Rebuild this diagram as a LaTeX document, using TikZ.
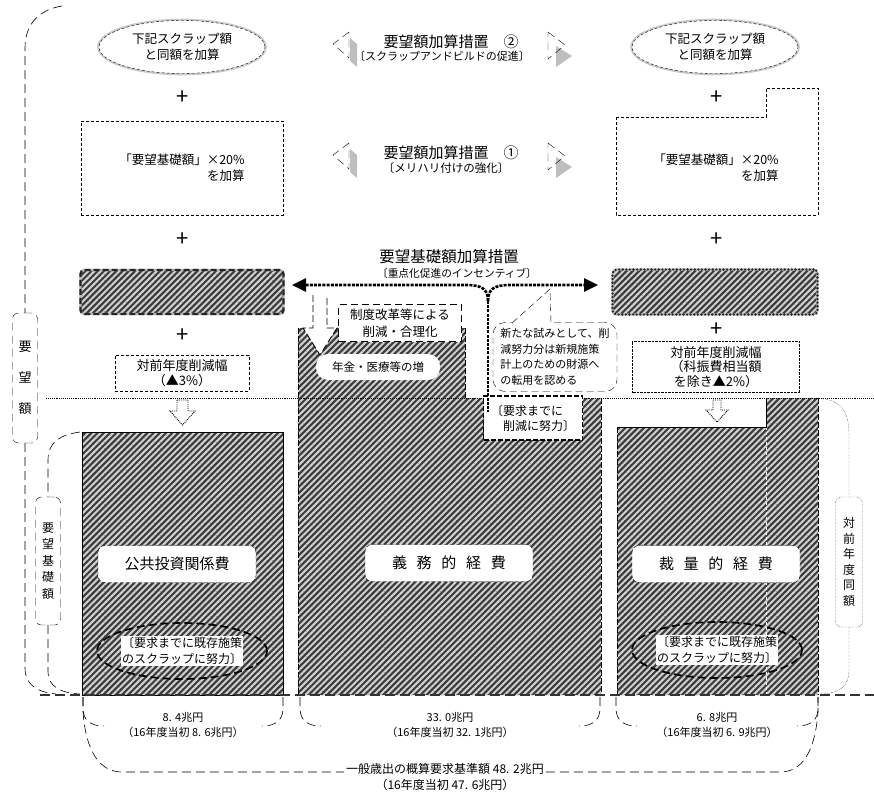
\documentclass[tikz,border=0pt]{standalone}
\usepackage{fontspec}
\setmainfont{Noto Sans CJK JP}
\usetikzlibrary{shapes.geometric,patterns.meta,arrows.meta}
\definecolor{stripeDark}{RGB}{60,60,60}
\definecolor{stripeLight}{RGB}{210,210,210}
\definecolor{haloGray}{RGB}{200,200,200}
\definecolor{shadeGray}{RGB}{190,190,190}
\newcommand{\fsz}[2]{\fontsize{#1}{#2}\selectfont}
\tikzset{
  hatched/.style={preaction={fill=stripeDark},
    pattern={Lines[angle=45,distance=4.4pt,line width=2pt]}, pattern color=stripeLight},
  dashbox/.style={draw, dash pattern=on 3pt off 2pt, fill=white, inner sep=0pt},
  dotbox/.style={draw, densely dotted, fill=white, inner sep=0pt},
  namebox/.style={draw, dash pattern=on 4pt off 2pt, fill=white, rounded corners=7pt,
    inner sep=0pt, minimum height=37pt, font=\fsz{15}{18}},
  scrapoval/.style={ellipse, draw, line width=1.7pt, dash pattern=on 8pt off 4pt,
    minimum width=170pt, minimum height=56pt, inner sep=0pt},
  scraptext/.style={fill=white, inner sep=1pt, font=\fsz{12}{16}, align=center},
  halooval/.style={ellipse, preaction={draw=haloGray, solid, line width=3.6pt},
    draw, dash pattern=on 3pt off 2pt, fill=white, minimum width=166pt, minimum height=53pt,
    inner sep=0pt, font=\fsz{12.5}{16}, align=center},
  plussign/.style={font=\fsz{22}{22}},
  bracketline/.style={dash pattern=on 9pt off 5pt, line width=0.6pt},
  vlabel/.style={draw, dash pattern=on 8pt off 5pt, rounded corners=6pt, fill=white,
    inner sep=0pt, minimum width=25pt, align=center},
  incentive/.style={line width=2.6pt, dash pattern=on 3pt off 1.2pt},
  openarrow/.style={densely dotted, line width=0.9pt, fill=white},
}

\begin{document}
\begin{tikzpicture}[x=1pt, y=-1pt]
\useasboundingbox (0,0) rectangle (874,795);

% side brackets
\node[vlabel, minimum height=130pt, font=\fsz{13}{31}] (yobo) at (25,378) {要\\望\\額};
\node[vlabel, minimum height=128pt, font=\fsz{12}{16.5}] (kiso) at (48,561) {要\\望\\基\\礎\\額};
\node[vlabel, densely dotted, minimum width=27pt, minimum height=130pt, font=\fsz{12}{15.5}] (doogaku) at (849,562) {対\\前\\年\\度\\同\\額};
\draw[bracketline] (62,6) .. controls (38,10) and (25,25) .. (25,48) -- (yobo.north);
\draw[bracketline] (yobo.south) -- (25,668) .. controls (25,684) and (36,692) .. (56,694);
\draw[bracketline] (80,432) .. controls (60,435) and (48,442) .. (48,460) -- (kiso.north);
\draw[bracketline] (kiso.south) -- (48,672) .. controls (48,686) and (60,693) .. (80,694);
\draw[densely dotted] (818,398) .. controls (842,400) and (849,412) .. (849,435) -- (doogaku.north);
\draw[densely dotted] (doogaku.south) -- (849,670) .. controls (849,686) and (840,694) .. (818,694);

% columns
\draw[hatched] (82,432) rectangle (283,695);
\path[hatched] (298,328) -- (465,328) -- (465,398) -- (601,398) -- (601,695) -- (298,695) -- cycle;
\draw[line width=1pt, dash pattern=on 6pt off 2pt] (298,328) -- (298,695) (465,328) -- (465,398) (601,398) -- (601,695);
\path[hatched] (617,427) -- (766,427) -- (766,398) -- (818,398) -- (818,695) -- (617,695) -- cycle;
\draw[white, densely dashed] (766,427) -- (766,695);
\draw (617,427) -- (766,427) -- (766,398);
\draw[line width=1pt, dash pattern=on 6pt off 2pt] (617,427) -- (617,695) (818,398) -- (818,695);
\draw[densely dotted, line width=0.9pt] (46,398) -- (874,398);
\draw[black!80, line width=1.7pt, dash pattern=on 10pt off 5pt] (40,695) -- (874,695);

\node[namebox, minimum width=158pt] (kokyo) at (177,564) {公共投資関係費};
\node[namebox, minimum width=168pt] (gimu) at (449,563) {義\hspace{.65em}務\hspace{.65em}的\hspace{.65em}経\hspace{.65em}費};
\node[namebox, minimum width=168pt] (sairyo) at (716,564) {裁\hspace{.65em}量\hspace{.65em}的\hspace{.65em}経\hspace{.65em}費};
\node[scrapoval] (scrapL) at (182,651) {};
\node[scraptext] (scrapLtext) at (scrapL) {〔要求までに既存施策\\のスクラップに努力〕};
\node[scrapoval] (scrapR) at (717,650) {};
\node[scraptext] (scrapRtext) at (scrapR) {〔要求までに既存施策\\のスクラップに努力〕};

% upper part
\node[halooval] (addL) at (182,47) {下記スクラップ額\\と同額を加算};
\node[halooval] (addR) at (715,47) {下記スクラップ額\\と同額を加算};
\node[plussign] (plusL1) at (183,98) {+};
\node[plussign] (plusR1) at (717,98) {+};
\node[dashbox, minimum width=202pt, minimum height=94pt, font=\fsz{12.5}{16}, align=right] (rateL) at (182,168) {「要望基礎額」×20\%\\を加算};
\draw[dashbox] (616,117) -- (766,117) -- (766,88) -- (818,88) -- (818,215) -- (616,215) -- cycle;
\node[font=\fsz{12.5}{16}, align=right] (rateR) at (716,168) {「要望基礎額」×20\%\\を加算};
\node[plussign] (plusL2) at (183,240) {+};
\node[plussign] (plusR2) at (717,240) {+};
\node[hatched, rounded corners=4pt, minimum width=203pt, minimum height=44pt,
  postaction={draw=gray!60, solid, line width=2.4pt},
  postaction={draw=black!85, line width=2.4pt, dash pattern=on 6pt off 3pt}] (baseL) at (182,292) {};
\node[hatched, rounded corners=4pt, minimum width=205pt, minimum height=45pt,
  postaction={draw=gray!55, solid, line width=2.2pt},
  postaction={draw=black!85, line width=2.6pt, dash pattern=on 0pt off 3.6pt, line cap=round}] (baseR) at (715,292) {};
\node[plussign] (plusL3) at (183,336) {+};
\node[plussign] (plusR3) at (717,330) {+};
\node[dashbox, minimum width=134pt, minimum height=36pt, font=\fsz{13}{15}, align=center] (cutL) at (182,373) {対前年度削減幅\\（▲3\%）};
\node[dotbox, minimum width=167pt, minimum height=51pt, font=\fsz{13}{14.5}, align=center] (cutR) at (716,367) {対前年度削減幅\\（科振費相当額\\を除き▲2\%）};
\draw[openarrow] (177,400) -- (188,400) -- (188,411) -- (195,411) -- (182.5,425) -- (170,411) -- (177,411) -- cycle;
\draw[openarrow] (713,400) -- (721,400) -- (721,410) -- (728,410) -- (717,422) -- (706,410) -- (713,410) -- cycle;

% headings in the middle
\node[font=\fsz{15}{15}] (head2) at (451,42) {要望額加算措置　②};
\node[font=\fsz{11}{11}] (sub2) at (442,56) {〔スクラップアンドビルドの促進〕};
\node[font=\fsz{15}{15}] (head1) at (451,153) {要望額加算措置　①};
\node[font=\fsz{11.5}{11.5}] (sub1) at (446,168) {〔メリハリ付けの強化〕};
\foreach \dy in {0,111} {
  \fill[shadeGray] (350,38+\dy) -- (357,44+\dy) -- (357,67+\dy) -- (350,61+\dy) -- cycle;
  \draw[dash pattern=on 8pt off 5pt] (349,32+\dy) -- (333,44+\dy) -- (349,58+\dy) -- cycle;
  \fill[shadeGray] (556,46+\dy) -- (572,56+\dy) -- (556,67+\dy) -- cycle;
  \draw[dash pattern=on 8pt off 5pt] (548,32+\dy) -- (565,45+\dy) -- (548,59+\dy) -- cycle;
}

% incentive
\node[font=\fsz{15.5}{15.5}] (head0) at (449,257) {要望基礎額加算措置};
\node[font=\fsz{10.7}{10.7}] (sub0) at (457,273) {〔重点化促進のインセンティブ〕};
\coordinate (fork) at (488,301);
\coordinate (tipL) at (292,285);
\coordinate (tipR) at (598,285);
\draw[incentive, -{Triangle[length=14pt,width=13pt]}] (fork) .. controls (488,289) and (482,285) .. (466,285) -- (tipL);
\draw[incentive, -{Triangle[length=14pt,width=13pt]}] (fork) .. controls (488,289) and (494,285) .. (510,285) -- (tipR);

\fill[white] (313,295) -- (327,295) -- (327,328) -- (337,328) -- (320,355) -- (303,328) -- (313,328) -- cycle;
\draw[dash pattern=on 7pt off 3pt, line width=0.9pt] (313,295) -- (313,328) -- (303,328) -- (320,355) -- (337,328) -- (327,328) -- (327,295);
\node[dashbox, dash pattern=on 7pt off 4pt, minimum width=123pt, minimum height=37pt, font=\fsz{12.5}{17}, align=center] (reform) at (400,323) {制度改革等による\\削減・合理化};
\node[fill=white, rounded corners=12pt, minimum width=124pt, minimum height=26pt, font=\fsz{11.5}{11.5}] (pension) at (378,367) {年金・医療等の増};

\node[draw, dash pattern=on 7pt off 4pt, rounded corners=12pt, fill=white, minimum width=124pt, minimum height=69pt,
  inner sep=0pt, font=\fsz{11}{15.5}, align=left] (trial) at (555,357) {新たな試みとして、削\\減努力分は新規施策\\計上のための財源へ\\の転用を認める};
\coordinate (trialtip) at (550,289);
\fill[white] (512,324) -- (trialtip) -- (552,324) -- cycle;
\draw[dash pattern=on 7pt off 4pt] (512,323) -- (trialtip) -- (551,323);

\node[draw, line width=1.2pt, dash pattern=on 5pt off 2pt, fill=white, minimum width=99pt, minimum height=44pt,
  inner sep=0pt, font=\fsz{12}{15}, align=left] (cutwork) at (533,418) {〔要求までに\\\hspace*{1em}削減に努力〕};
\draw[incentive, line width=2pt] (fork) -- (488,412);

% amounts
\draw[bracketline] (83,697) -- (83,708) .. controls (83,720) and (90,726) .. (104,726);
\draw[bracketline] (283,697) -- (283,708) .. controls (283,720) and (276,726) .. (262,726);
\draw[bracketline] (300,697) -- (300,708) .. controls (300,720) and (307,726) .. (321,726);
\draw[bracketline] (600,697) -- (600,708) .. controls (600,720) and (593,726) .. (579,726);
\draw[bracketline] (616,697) -- (616,708) .. controls (616,720) and (623,726) .. (637,726);
\draw[bracketline] (818,697) -- (818,708) .. controls (818,720) and (811,726) .. (797,726);
\node[font=\fsz{11}{15}, align=center] (amtA) at (183,725) {8. 4兆円\\（16年度当初 8. 6兆円）};
\node[font=\fsz{11}{15}, align=center] (amtB) at (450,725) {33. 0兆円\\（16年度当初 32. 1兆円）};
\node[font=\fsz{11}{15}, align=center] (amtC) at (717,725) {6. 8兆円\\（16年度当初 6. 9兆円）};
\draw[bracketline] (83,697) -- (83,712) .. controls (86,752) and (100,772) .. (122,772) -- (780,772)
  .. controls (802,772) and (815,752) .. (818,712) -- (818,697);
\node[fill=white, inner sep=2pt, font=\fsz{12}{16}, align=center] (total) at (445,777) {一般歳出の概算要求基準額 48. 2兆円\\（16年度当初 47. 6兆円）};
\end{tikzpicture}
\end{document}
